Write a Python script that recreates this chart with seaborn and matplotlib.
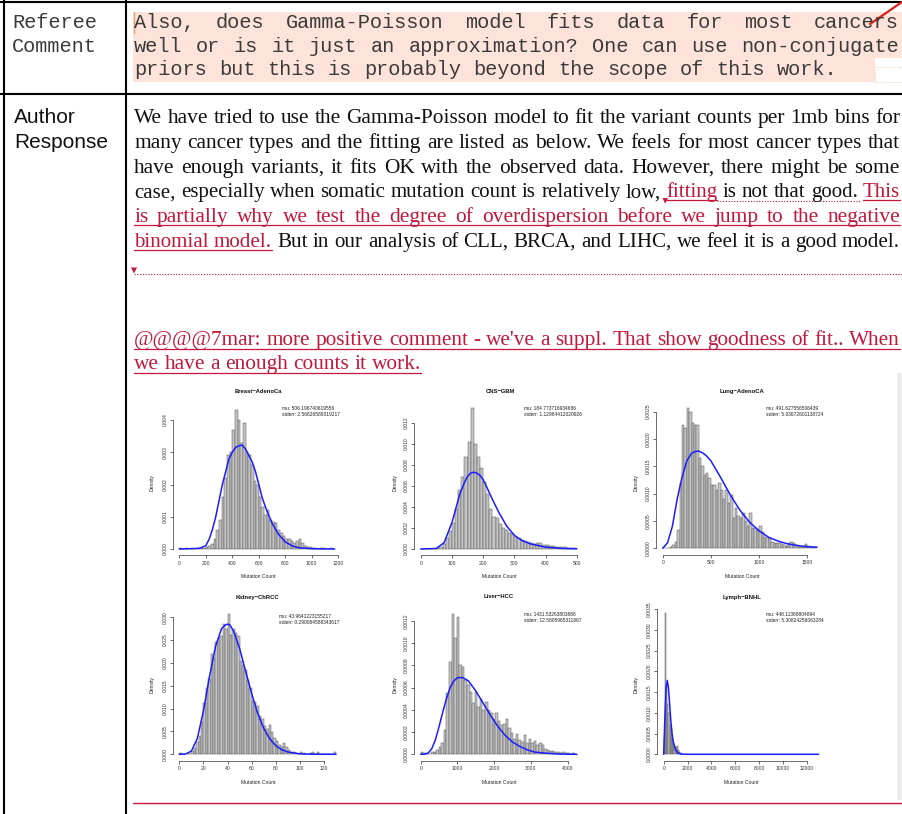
import numpy as np
import pandas as pd
import matplotlib
matplotlib.use("Agg")
import matplotlib.pyplot as plt
import seaborn as sns
from matplotlib.lines import Line2D
from matplotlib.patches import Rectangle, Polygon

# ---------------------------------------------------------------- data
referee_label = ["Referee", "Comment"]
referee_lines = [
    "Also, does Gamma-Poisson model fits data for most cancers",
    "well or is it just an approximation? One can use non-conjugate",
    "priors but this is probably beyond the scope of this work.",
]
author_label = ["Author", "Response"]
RED = "#c3173b"
BLK = "#111111"
# each line: list of (text, colour, underlined), justified flag
response_lines = [
    ([("We have tried to use the Gamma-Poisson model to fit the variant counts per 1mb bins for", BLK, False)], True),
    ([("many cancer types and the fitting are listed as below. We feels for most cancer types that", BLK, False)], True),
    ([("have enough variants, it fits OK with the observed data. However, there might be some", BLK, False)], True),
    ([("case, especially when somatic mutation count is relatively low,", BLK, False),
      ("fitting", RED, True), ("is not that good.", BLK, False), ("This", RED, True)], True),
    ([("is partially why we test the degree of overdispersion before we jump to the  negative", RED, True)], True),
    ([("binomial model.", RED, True), ("But in our analysis of CLL, BRCA, and LIHC, we feel it is a good model.", BLK, False)], True),
]
comment_lines = [
    ([("@@@@7mar: more positive comment - we've a suppl. That show goodness of fit.. When", RED, True)], True),
    ([("we have a enough counts it work.", RED, True)], False),
]

titles = ["Breast\u2212AdenoCa", "CNS\u2212GBM", "Lung\u2212AdenoCA",
          "Kidney\u2212ChRCC", "Liver\u2212HCC", "Lymph\u2212BNHL"]
mus = ["506.196740619556", "184.773716934686", "491.627556506439",
       "43.9641223155217", "1431.53263803886", "448.11368804894"]
stderrs = ["2.56626589019217", "1.12984412020926", "5.03672601138724",
           "0.290084588343617", "12.5805965311867", "5.30824256063284"]

bin_widths = [20, 10, 25, 2, 70, 100]

breast_density = [0.00003, 0, 0.00002, 0, 0, 0, 0, 0.00002, 0.00003, 0.00004,
                  0.00005, 0.0001, 0.00015, 0.0003, 0.0006, 0.0009, 0.0016, 0.0022, 0.0029, 0.0030,
                  0.0037, 0.0043, 0.0040, 0.0033, 0.0039, 0.0030, 0.0029, 0.0026, 0.0021, 0.0020,
                  0.0016, 0.0013, 0.00105, 0.0012, 0.0009, 0.00085, 0.0008, 0.0006, 0.0005, 0.0004,
                  0.0003, 0.0003, 0.00025, 0.0002, 0.00025, 0.0003, 0.0002, 0.0001, 0.00006, 0.00005,
                  0.00003, 0.00002, 0.00001, 0.00004, 0.00002, 0.00001, 0.00001, 0.00002, 0.00001]
cns_density = [0.00003, 0, 0.00003, 0, 0, 0.00005, 0.0002, 0.0005, 0.001, 0.0017,
               0.0025, 0.0038, 0.0056, 0.0068, 0.0087, 0.0102, 0.0134, 0.0100, 0.0087, 0.0077,
               0.0064, 0.0052, 0.0038, 0.0030, 0.0029, 0.0024, 0.0020, 0.0018, 0.0015, 0.0014,
               0.0011, 0.0010, 0.0009, 0.0008, 0.0007, 0.0006, 0.0005, 0.0006, 0.0006, 0.0004,
               0.0004, 0.0003, 0.0003, 0.0002, 0.0002, 0.00015, 0.0002, 0.0001, 0.00005, 0.00005]
lung_density = [0.00001, 0, 0.00001, 0.00003, 0.00006, 0.00012, 0.00034, 0.0012, 0.00225, 0.0022,
                0.00256, 0.0025, 0.0023, 0.00225, 0.00225, 0.00165, 0.0015, 0.00134, 0.00137, 0.00128,
                0.00116, 0.00116, 0.00107, 0.0012, 0.00107, 0.00091, 0.00107, 0.00082, 0.00097, 0.00055,
                0.00073, 0.0006, 0.00055, 0.00064, 0.0005, 0.0004, 0.00064, 0.00037, 0.00037, 0.00034,
                0.0004, 0.0003, 0.00021, 0.00018, 0.00018, 0.00012, 0.00009, 0.00009, 0.00009, 0.00007,
                0.00006, 0.00005, 0.00009, 0.00012, 0.00009, 0.00006, 0.00003, 0.00003, 0.00003, 0.00007,
                0.00005, 0.00003, 0.00003, 0.00002]
kidney_density = [0.0003, 0, 0, 0.0002, 0, 0.0008, 0.0013, 0.0028, 0.004, 0.007,
                  0.0112, 0.0145, 0.0165, 0.0219, 0.021, 0.0245, 0.0255, 0.026, 0.0285, 0.0275,
                  0.0307, 0.0262, 0.0275, 0.0265, 0.0258, 0.0205, 0.0195, 0.0185, 0.0162, 0.0145,
                  0.0117, 0.0115, 0.0105, 0.0083, 0.0077, 0.0063, 0.0055, 0.0065, 0.0048, 0.0035,
                  0.003, 0.0021, 0.0016, 0.0024, 0.0015, 0.001, 0.0006, 0.0004, 0.0003, 0.0001,
                  0.0005, 0.0002, 0.0001, 0, 0.0002, 0.0004, 0.0001, 0.0006, 0, 0,
                  0.0001, 0, 0, 0, 0.0004]
liver_density = [0.00002, 0.00001, 0.00001, 0.0, 0.00002, 0.00002, 0.00004, 0.00007, 0.0001, 0.00022,
                 0.00055, 0.00083, 0.00126, 0.00105, 0.00124, 0.0008, 0.00079, 0.00067, 0.00062, 0.00056,
                 0.00046, 0.00056, 0.00043, 0.0005, 0.0004, 0.00047, 0.0004, 0.00037, 0.00032, 0.00037,
                 0.0003, 0.00026, 0.00027, 0.00032, 0.00024, 0.00019, 0.00014, 0.00018, 0.00013, 0.00011,
                 0.00017, 0.0001, 0.00014, 0.0001, 0.00012, 0.00008, 0.0001, 0.00008, 0.00005, 0.00004,
                 0.00003, 0.00003, 0.00002, 0.00002, 0.00001, 0.00002, 0.00001, 0.00001, 0.0, 0.00001]
lymph_density = [0.0004, 0.0034, 0.0017, 0.0012, 0.001, 0.0007, 0.0006, 0.0004, 0.0003, 0.0002,
                 0.00015, 0.0002, 0.0001, 0.00005, 0.00003]

breast_curve_x = [0, 150, 200, 225, 250, 275, 300, 325, 350, 375, 400, 425, 450, 475, 500, 525, 550, 575, 600,
                  625, 650, 700, 750, 800, 850, 900, 1000, 1170]
breast_curve_y = [0, 0.00002, 0.0001, 0.0003, 0.0006, 0.001, 0.0015, 0.002, 0.0024, 0.0028, 0.0030, 0.00315,
                  0.0032, 0.00322, 0.0031, 0.0029, 0.0027, 0.0024, 0.0020, 0.0016, 0.0013, 0.0008, 0.00045,
                  0.00022, 0.0001, 0.00004, 0.00001, 0]
cns_curve_x = [0, 50, 75, 100, 115, 125, 140, 150, 160, 170, 180, 190, 200, 210, 230, 250, 275, 300, 325, 350,
               400, 450, 500]
cns_curve_y = [0, 0.00005, 0.0006, 0.0025, 0.0041, 0.0052, 0.0063, 0.0069, 0.0072, 0.0073, 0.0072, 0.0070,
               0.0066, 0.0060, 0.0047, 0.0035, 0.0022, 0.0013, 0.0008, 0.0005, 0.00018, 0.00006, 0.00002]
lung_curve_x = [0, 50, 100, 150, 200, 250, 300, 335, 370, 410, 450, 500, 600, 700, 800, 900, 1000, 1100, 1200,
                1300, 1400, 1500, 1600]
lung_curve_y = [0, 0.0001, 0.0004, 0.0009, 0.0013, 0.0016, 0.00174, 0.00177, 0.00178, 0.00175, 0.0017,
                0.0016, 0.0013, 0.00098, 0.0007, 0.00048, 0.00032, 0.0002, 0.00013, 0.00008, 0.00005,
                0.00003, 0.00002]
kidney_curve_x = [0, 5, 10, 15, 20, 25, 30, 35, 38, 40, 42, 45, 50, 55, 60, 65, 70, 75, 80, 85, 90, 100, 110, 130]
kidney_curve_y = [0, 0.00005, 0.0007, 0.0035, 0.0095, 0.017, 0.0236, 0.0275, 0.0283, 0.0285, 0.0283, 0.027,
                  0.0232, 0.0182, 0.0133, 0.009, 0.0057, 0.0034, 0.0019, 0.001, 0.0005, 0.0001, 0.00002, 0]
liver_curve_x = [0, 100, 200, 300, 400, 500, 600, 700, 800, 900, 1000, 1150, 1300, 1500, 1700, 1900, 2100,
                 2300, 2500, 2700, 2900, 3100, 3400, 3800, 4250]
liver_curve_y = [0, 0.000001, 0.00001, 0.00005, 0.00013, 0.00025, 0.00038, 0.0005, 0.0006, 0.00066, 0.00069,
                 0.00069, 0.00066, 0.00057, 0.00046, 0.00035, 0.00025, 0.00017, 0.00011, 0.00007, 0.00004,
                 0.00002, 0.00001, 0.000002, 0]
lymph_curve_x = [0, 100, 200, 300, 400, 500, 600, 700, 800, 1000, 1200, 1500, 2000, 13000]
lymph_curve_y = [0, 0.0009, 0.0016, 0.00178, 0.0016, 0.0012, 0.0008, 0.0005, 0.0003, 0.0001, 0.00003,
                 0.000005, 0, 0]

xticks = [[0, 200, 400, 600, 800, 1000, 1200], [0, 100, 200, 300, 400, 500], [0, 500, 1000, 1500],
          [0, 20, 40, 60, 80, 100, 120], [0, 1000, 2000, 3000, 4000],
          [0, 2000, 4000, 6000, 8000, 10000, 12000]]
yticks = [[0, 0.001, 0.002, 0.003, 0.004], [0, 0.002, 0.004, 0.006, 0.008, 0.010, 0.012],
          [0, 0.0005, 0.001, 0.0015, 0.002, 0.0025], [0, 0.005, 0.01, 0.015, 0.02, 0.025, 0.03],
          [0, 0.0002, 0.0004, 0.0006, 0.0008, 0.001, 0.0012],
          [0, 0.0005, 0.001, 0.0015, 0.002, 0.0025, 0.003, 0.0035]]
ydecimals = [3, 3, 4, 3, 4, 4]

densities = [breast_density, cns_density, lung_density, kidney_density, liver_density, lymph_density]
curves_x = [breast_curve_x, cns_curve_x, lung_curve_x, kidney_curve_x, liver_curve_x, lymph_curve_x]
curves_y = [breast_curve_y, cns_curve_y, lung_curve_y, kidney_curve_y, liver_curve_y, lymph_curve_y]

# ---------------------------------------------------------------- layout (pixels from top-left)
ax_px = [(179.3, 338.3, 549.0, 420.0), (420.7, 576.7, 549.0, 422.7), (662.7, 807.3, 548.3, 411.7),
         (179.3, 324.0, 754.3, 617.3), (420.7, 567.7, 754.3, 621.0), (663.7, 806.7, 754.3, 609.0)]
title_xy = [(258, 391), (500, 391), (742, 391), (257, 597), (499, 597), (742, 597)]
annot_xy = [(282, 409), (524, 409), (766, 409), (279, 616), (524, 615), (766, 615)]
dens_xy = [(152, 483), (395, 483), (636, 483), (152, 685), (395, 685), (636, 685)]
mc_xy = [(258, 576), (499, 576), (742, 576), (258, 782), (499, 782), (741, 782)]

sns.set_style("white")
plt.rcParams["font.family"] = ["Liberation Sans", "DejaVu Sans"]

W, H = 902, 814
fig = plt.figure(figsize=(W / 100, H / 100), dpi=100)
fig.patch.set_facecolor("white")
renderer = fig.canvas.get_renderer()


def fx(x):
    return x / W


def fy(y):
    return 1 - y / H


def hline(x0, x1, y, **kw):
    fig.add_artist(Line2D([fx(x0), fx(x1)], [fy(y), fy(y)], transform=fig.transFigure, **kw))


def vline(x, y0, y1, **kw):
    fig.add_artist(Line2D([fx(x), fx(x)], [fy(y0), fy(y1)], transform=fig.transFigure, **kw))


def rect(x0, y0, x1, y1, **kw):
    fig.add_artist(Rectangle((fx(x0), fy(y1)), fx(x1) - fx(x0), fy(y0) - fy(y1),
                             transform=fig.transFigure, **kw))


def tri(x, y, s=3.5, color=RED):
    fig.add_artist(Polygon([(fx(x - s), fy(y - s)), (fx(x + s), fy(y - s)), (fx(x), fy(y + s))],
                           closed=True, transform=fig.transFigure, color=color, lw=0))


def text_line(segments, y, x0, x1, size, family, justify, ul_off=3.0):
    items = []
    for txt, color, ul in segments:
        for w in txt.split():
            items.append((w, color, ul))

    def measure(sz):
        ws = []
        for w, c, u in items:
            t = fig.text(0, 0, w, fontsize=sz, family=family)
            ws.append(t.get_window_extent(renderer).width)
            t.remove()
        return ws

    sp = fig.text(0, 0, "a a", fontsize=size, family=family)
    sa = fig.text(0, 0, "aa", fontsize=size, family=family)
    space = sp.get_window_extent(renderer).width - sa.get_window_extent(renderer).width
    sp.remove(); sa.remove()
    widths = measure(size)
    natural = sum(widths) + space * (len(items) - 1)
    if natural > (x1 - x0):
        f = (x1 - x0) / natural * 0.997
        size *= f
        space *= f
        widths = measure(size)
    if justify and len(items) > 1:
        gap = (x1 - x0 - sum(widths)) / (len(items) - 1)
    else:
        gap = space
    x = x0
    pos = []
    for (w, c, u), wd in zip(items, widths):
        fig.text(fx(x), fy(y), w, fontsize=size, family=family, color=c, va="baseline", ha="left")
        pos.append((x, wd))
        x += wd + gap
    for i, (w, c, u) in enumerate(items):
        if u:
            xs = pos[i][0]
            xe = pos[i][0] + pos[i][1]
            if i + 1 < len(items) and items[i + 1][2]:
                xe = pos[i + 1][0]
            hline(xs, xe, y + ul_off, color=c, lw=0.9)
    return items, pos


# ---------------------------------------------------------------- table frame & top cell
rect(133, 11.7, 902, 58.3, facecolor="#fde3d9", edgecolor="none")
rect(133, 58.3, 875, 81.7, facecolor="#fde3d9", edgecolor="none")
rect(875, 66.7, 904, 81.7, facecolor="none", edgecolor="#f4b48c", lw=0.6, ls=(0, (1, 2)))
vline(134, 12, 33, color="#f0a070", lw=1.0)

hline(0, 902, 1.5, color="black", lw=1.5)
hline(0, 902, 94.3, color="black", lw=1.5)
vline(3.5, 0, 814, color="black", lw=1.5)
vline(125.5, 0, 814, color="black", lw=1.5)

MONO = ["Liberation Mono", "DejaVu Sans Mono"]
MONO_C = "#3a3a3a"
fig.text(fx(12), fy(28.3), referee_label[0], fontsize=14.6, family=MONO, color=MONO_C, va="baseline")
fig.text(fx(12), fy(51.7), referee_label[1], fontsize=14.6, family=MONO, color=MONO_C, va="baseline")
ref_base = [28.3, 51.7, 75.0]
for i, line in enumerate(referee_lines):
    text_line([(line, MONO_C, False)], ref_base[i], 134, 899 if i < 2 else 1500, 14.6, MONO, i < 2)

# red stroke at the top right
fig.add_artist(Line2D([fx(870), fx(902)], [fy(24), fy(2)], transform=fig.transFigure, color="#e0201c", lw=1.6))

# ---------------------------------------------------------------- author response
SANS = ["Liberation Sans", "DejaVu Sans"]
SERIF = ["Liberation Serif", "DejaVu Serif"]
fig.text(fx(14), fy(123.3), author_label[0], fontsize=15, family=SANS, color="#111111", va="baseline")
fig.text(fx(14), fy(148.3), author_label[1], fontsize=15, family=SANS, color="#111111", va="baseline")

base = 123.3
for k, (segs, just) in enumerate(response_lines):
    y = base + 24.7 * k
    items, pos = text_line(segs, y, 134, 900, 15.4, SERIF, just)
    if k == 3:
        idx_f = [i for i, it in enumerate(items) if it[0] == "fitting"][0]
        idx_t = [i for i, it in enumerate(items) if it[0] == "This"][0]
        tri(pos[idx_f][0] - 1, y + 3.5, 2.8)
        hline(pos[idx_f][0] + pos[idx_f][1], pos[idx_t][0] - 2, y + 3.2, color=RED, lw=0.8, ls=(0, (1, 1.5)))

tri(134, 270.5, 3.0)
hline(134, 902, 273.5, color=RED, lw=0.8, ls=(0, (1, 1.5)))

for k, (segs, just) in enumerate(comment_lines):
    y = 345.0 + 24.0 * k
    text_line(segs, y, 134, 900, 15.4, SERIF, just, ul_off=3.5)

rect(896.5, 373, 902, 800, facecolor="#ebebeb", edgecolor="none")
hline(133, 902, 803, color=RED, lw=1.0)

# ---------------------------------------------------------------- histogram panels
for i in range(6):
    x0p, x1p, y0p, y1p = ax_px[i]
    xt = xticks[i]
    yt = yticks[i]
    ax = fig.add_axes([fx(x0p), fy(y0p), fx(x1p) - fx(x0p), fy(y1p) - fy(y0p)])
    ax.set_facecolor("none")
    w = bin_widths[i]
    dens = densities[i]
    n = len(dens)
    df = pd.DataFrame({"x": np.arange(n) * w + w / 2.0, "d": np.asarray(dens, dtype=float)})
    sns.histplot(data=df, x="x", weights="d", binwidth=w, binrange=(0, n * w), stat="count", ax=ax,
                 color="#c4c4c4", edgecolor="#555555", linewidth=0.35, alpha=1.0)
    cdf = pd.DataFrame({"x": curves_x[i], "y": curves_y[i]})
    sns.lineplot(data=cdf, x="x", y="y", ax=ax, color="#1c1cff", lw=1.1, sort=False)
    for p in ax.patches:
        p.set_clip_on(False)
    for ln in ax.lines:
        ln.set_clip_on(False)
    ax.set_xlim(xt[0], xt[-1])
    ax.set_ylim(yt[0], yt[-1])
    ax.set_xticks(xt)
    ax.set_xticklabels([str(v) for v in xt])
    ax.set_yticks(yt)
    ax.set_yticklabels([f"{v:.{ydecimals[i]}f}" for v in yt])
    ax.set_xlabel("")
    ax.set_ylabel("")
    for s in ["top", "right"]:
        ax.spines[s].set_visible(False)
    for s in ["left", "bottom"]:
        ax.spines[s].set_visible(True)
        ax.spines[s].set_position(("outward", 4.5))
        ax.spines[s].set_linewidth(0.5)
        ax.spines[s].set_color("#333333")
    ax.tick_params(axis="both", length=2, width=0.5, labelsize=3.6, pad=1.8,
                   color="#333333", labelcolor="#333333", left=True, bottom=True)
    ax.tick_params(axis="y", labelrotation=90)
    for lab in ax.get_yticklabels():
        lab.set_va("center")

    tx, ty = title_xy[i]
    fig.text(fx(tx), fy(ty), titles[i], fontsize=4.2, fontweight="bold", ha="center", va="center",
             family=SANS, color="#111111")
    axx, axy = annot_xy[i]
    fig.text(fx(axx), fy(axy), "mu: " + mus[i], fontsize=3.5, ha="left", va="center", family=SANS, color="#222222")
    fig.text(fx(axx), fy(axy + 6), "stderr: " + stderrs[i], fontsize=3.5, ha="left", va="center",
             family=SANS, color="#222222")
    dx, dy = dens_xy[i]
    fig.text(fx(dx), fy(dy), "Density", fontsize=3.6, rotation=90, ha="center", va="center",
             family=SANS, color="#222222")
    mx, my = mc_xy[i]
    fig.text(fx(mx), fy(my), "Mutation Count", fontsize=3.6, ha="center", va="center",
             family=SANS, color="#222222")

fig.savefig("out.png", dpi=100)
